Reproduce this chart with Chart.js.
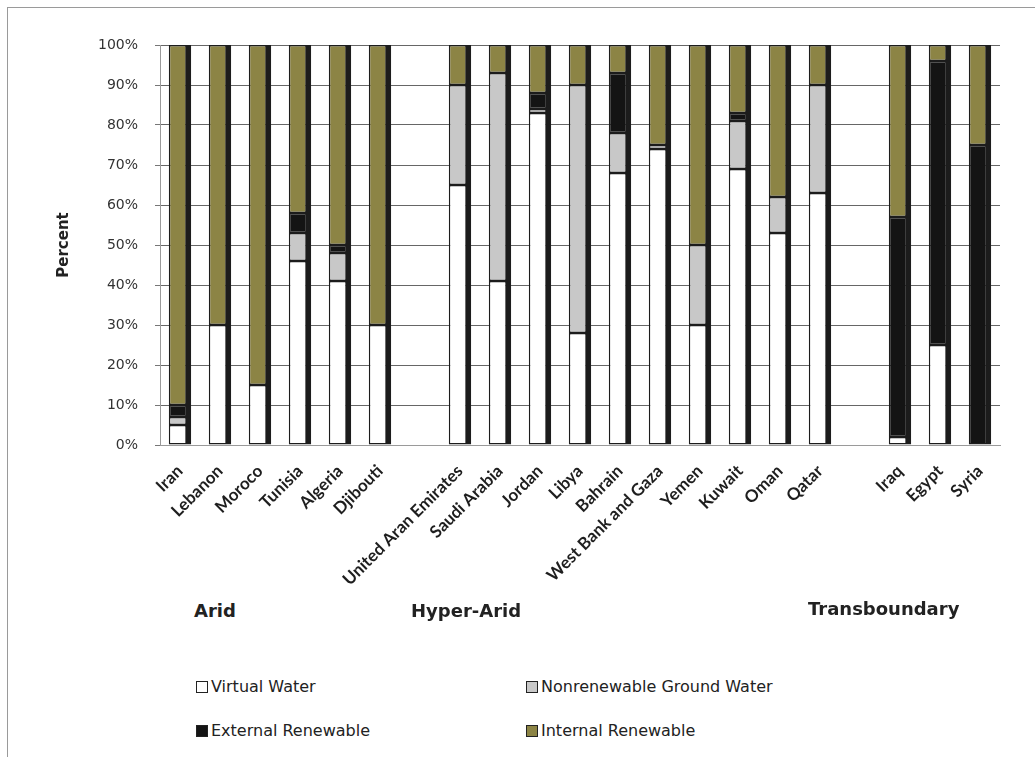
<!DOCTYPE html>
<html>
<head>
<meta charset="utf-8">
<script src="https://cdn.jsdelivr.net/npm/chart.js@4/dist/chart.umd.min.js"></script>
<style>
  html, body { margin: 0; padding: 0; background: #fff; }
  body { width: 1035px; height: 757px; position: relative; overflow: hidden; font-family: "DejaVu Sans", sans-serif; }
  #frame { position: absolute; left: 7px; top: 7px; width: 1030px; height: 800px; border-left: 1px solid #9a9a9a; border-top: 1px solid #9a9a9a; box-sizing: border-box; }
  #wrap { position: absolute; left: 0; top: 0; width: 1035px; height: 600px; }
  .grp { position: absolute; font-family: "DejaVu Sans", sans-serif; font-weight: bold; font-size: 18px; color: #222; }
  .leg { position: absolute; font-family: "DejaVu Sans", sans-serif; font-size: 16px; color: #222; display: flex; align-items: center; white-space: nowrap; }
  .leg span.box { display: inline-block; width: 10px; height: 10px; border: 1px solid #222; margin-right: 3px; }
</style>
</head>
<body>
<div id="frame"></div>
<div id="wrap"><canvas id="c" width="1035" height="600"></canvas></div>
<div class="grp" style="left:194px; top:600px;">Arid</div>
<div class="grp" style="left:411px; top:600px;">Hyper-Arid</div>
<div class="grp" style="left:808px; top:598px;">Transboundary</div>
<div id="legend"></div>
<script>
const categories = ['Iran','Lebanon','Moroco','Tunisia','Algeria','Djibouti','',
  'United Aran Emirates','Saudi Arabia','Jordan','Libya','Bahrain','West Bank and Gaza','Yemen','Kuwait','Oman','Qatar','',
  'Iraq','Egypt','Syria'];
const virtualWater   = [5,30,15,46,41,30,null,65,41,83,28,68,74,30,69,53,63,null,2,25,0];
const nonrenewableGW = [2,0,0,7,7,0,null,25,52,1,62,10,1,20,12,9,27,null,0,0,0];
const externalRenew  = [3,0,0,5,2,0,null,0,0,4,0,15,0,0,2,0,0,null,55,71,75];
const internalRenew  = [90,70,85,42,50,70,null,10,7,12,10,7,25,50,17,38,10,null,43,4,25];
const seriesNames = ['Virtual Water','Nonrenewable Ground Water','External Renewable','Internal Renewable'];
const seriesColors = ['#ffffff','#c8c8c8','#141414','#8c8445'];
const yTicks = [0,10,20,30,40,50,60,70,80,90,100];

const seriesData = [virtualWater, nonrenewableGW, externalRenew, internalRenew];
const datasets = seriesData.map((d, i) => ({
  label: seriesNames[i],
  data: d,
  backgroundColor: seriesColors[i],
  borderColor: '#1c1c1c',
  borderWidth: {top: 1.5, bottom: 1.5, left: 1.5, right: 6},
  borderSkipped: false,
  barPercentage: 0.56,
  categoryPercentage: 1.0
}));

new Chart(document.getElementById('c'), {
  type: 'bar',
  data: { labels: categories, datasets },
  options: {
    responsive: false,
    animation: false,
    layout: { padding: { left: 55, top: 45, right: 35, bottom: 0 } },
    plugins: { legend: { display: false }, tooltip: { enabled: false } },
    scales: {
      x: {
        stacked: true,
        grid: { display: false },
        border: { display: true, color: '#9a9a9a', width: 1 },
        ticks: {
          autoSkip: false, maxRotation: 45, minRotation: 45, padding: 8,
          color: '#1e1e1e',
          font: { family: 'Lato', weight: 'bold', size: 17 }
        },
        afterFit: (s) => { s.height = 155; }
      },
      y: {
        stacked: true, min: 0, max: 100,
        afterBuildTicks: (s) => { s.ticks = yTicks.map(v => ({ value: v })); },
        grid: { color: '#666', lineWidth: 1, tickLength: 5, tickColor: '#777' },
        border: { display: true, color: '#9a9a9a', width: 1 },
        ticks: {
          padding: 17, color: '#333',
          font: { family: 'DejaVu Sans', size: 14 },
          callback: (v) => v + '%'
        },
        title: {
          display: true, text: 'Percent', color: '#222',
          font: { family: 'DejaVu Sans', weight: 'bold', size: 15 },
          padding: { top: 0, bottom: 0 }
        },
        afterFit: (s) => { s.width = 105; }
      }
    }
  }
});

// legend (HTML)
const legPos = [[196, 677], [526, 677], [196, 721], [526, 721]];
const legEl = document.getElementById('legend');
seriesNames.forEach((n, i) => {
  const d = document.createElement('div');
  d.className = 'leg';
  d.style.left = legPos[i][0] + 'px';
  d.style.top = legPos[i][1] + 'px';
  d.innerHTML = '<span class="box" style="background:' + seriesColors[i] + '"></span>' + n;
  legEl.appendChild(d);
});
</script>
</body>
</html>
